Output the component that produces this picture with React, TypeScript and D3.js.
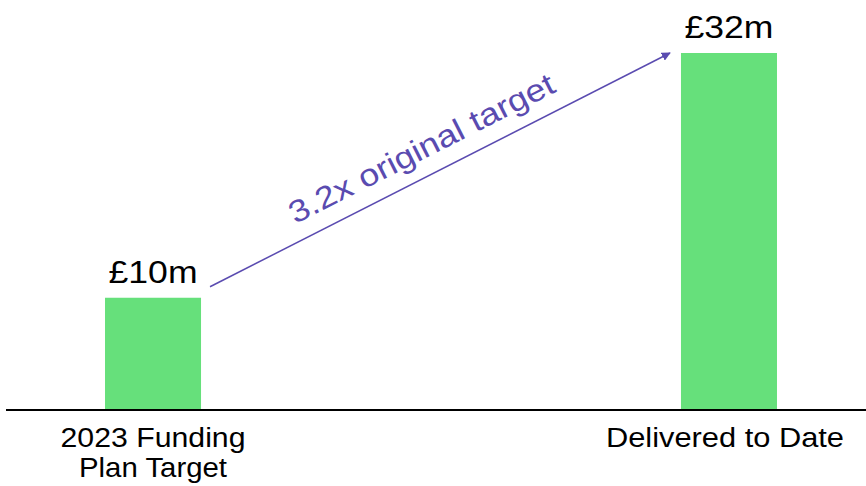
import React from "react";
import * as d3 from "d3";

const categories = ["2023 Funding Plan Target", "Delivered to Date"];
const categoryLines = [["2023 Funding", "Plan Target"], ["Delivered to Date"]];
const values = [10, 32];
const valueLabels = ["£10m", "£32m"];
const annotation = "3.2x original target";

const W = 866;
const H = 486;

export default function App() {
  const x = d3
    .scaleBand<string>()
    .domain(categories)
    .range([9, 873])
    .paddingInner(0.8333)
    .paddingOuter(0.1667);
  const y = d3.scaleLinear().domain([0, 32]).range([409, 53]);
  const bw = x.bandwidth();
  const green = "#66E07B";
  const purple = "#5A4BB0";

  const x1 = (x(categories[0]) as number) + bw + 9;
  const y1 = y(values[0]) - 11;
  const x2 = (x(categories[1]) as number) - 11;
  const y2 = y(values[1]);
  const angle = (Math.atan2(y2 - y1, x2 - x1) * 180) / Math.PI;
  const mx = x1 + (x2 - x1) * 0.487;
  const my = y1 + (y2 - y1) * 0.487;
  const len = Math.hypot(x2 - x1, y2 - y1);
  const nx = (y2 - y1) / len;
  const ny = -(x2 - x1) / len;
  const off = 17;
  const tx = mx + nx * off;
  const ty = my + ny * off;

  const font = "'Liberation Sans', Arial, sans-serif";

  return (
    <svg
      width={W}
      height={H}
      style={{ position: "absolute", left: 0, top: 0, background: "#fff" }}
    >
      <defs>
        <marker
          id="ah"
          viewBox="0 0 10 10"
          refX="9"
          refY="5"
          markerWidth="9"
          markerHeight="9"
          markerUnits="userSpaceOnUse"
          orient="auto"
        >
          <path d="M0,0 L10,5 L0,10 z" fill={purple} />
        </marker>
      </defs>
      {categories.map((c, i) => (
        <rect
          key={c}
          x={x(c)}
          y={y(values[i])}
          width={bw}
          height={y(0) - y(values[i])}
          fill={green}
        />
      ))}
      <line x1={6} x2={866} y1={y(0) + 1} y2={y(0) + 1} stroke="#000" strokeWidth={2} />
      {categories.map((c, i) => (
        <text
          key={"v" + c}
          x={(x(c) as number) + bw / 2}
          y={y(values[i]) - 15}
          textAnchor="middle"
          fontFamily={font}
          fontSize={31}
          fill="#000"
          textLength={89}
          lengthAdjust="spacingAndGlyphs"
        >
          {valueLabels[i]}
        </text>
      ))}
      {categories.map((c, i) =>
        categoryLines[i].map((ln, j) => (
          <text
            key={"c" + c + j}
            x={(x(c) as number) + bw / 2 + (i === 1 ? -4 : 0)}
            y={447 + j * 30}
            textAnchor="middle"
            fontFamily={font}
            fontSize={27.5}
            fill="#000"
            textLength={ln === "2023 Funding" ? 185 : ln === "Plan Target" ? 148 : 238}
            lengthAdjust="spacingAndGlyphs"
          >
            {ln}
          </text>
        ))
      )}
      <line
        x1={x1}
        y1={y1}
        x2={x2}
        y2={y2}
        stroke={purple}
        strokeWidth={1.5}
        markerEnd="url(#ah)"
      />
      <text
        x={tx}
        y={ty}
        transform={`rotate(${angle} ${tx} ${ty})`}
        textAnchor="middle"
        fontFamily={font}
        fontSize={31}
        fill={purple}
        textLength={294}
        lengthAdjust="spacingAndGlyphs"
      >
        {annotation}
      </text>
    </svg>
  );
}
